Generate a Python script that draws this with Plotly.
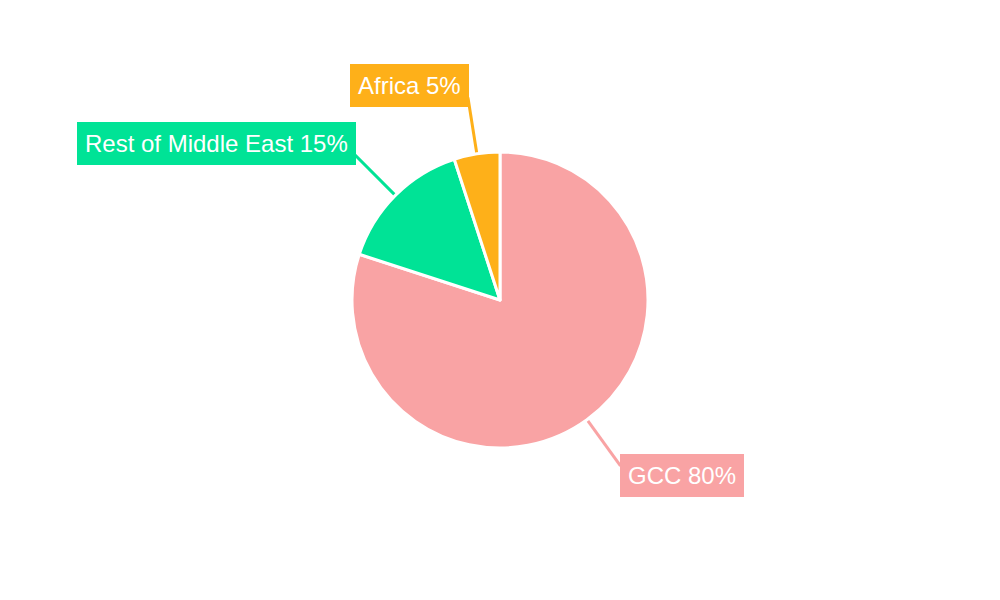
import math
import plotly.graph_objects as go

labels = ["GCC", "Rest of Middle East", "Africa"]
values = [80, 15, 5]
colors = ["#F9A3A4", "#00E396", "#FEB019"]

W, H = 1000, 600
cx, cy, R = 500, 300, 148
R_OUT = 205

fig = go.Figure(go.Pie(
    labels=labels, values=values, sort=False, direction="clockwise", rotation=0,
    marker=dict(colors=colors, line=dict(color="white", width=3)),
    textinfo="none", hoverinfo="label+percent", showlegend=False,
    domain=dict(x=[0, 1], y=[(cy - R) / H, (cy + R) / H]),
))

total = sum(values)
cum = 0
for lab, v, col in zip(labels, values, colors):
    mid = (cum + v / 2) / total * 2 * math.pi
    cum += v
    s, c = math.sin(mid), math.cos(mid)
    x1, y1 = cx + R * s, cy - R * c
    x2, y2 = cx + R_OUT * s, cy - R_OUT * c
    fig.add_shape(type="line", xref="paper", yref="paper",
                  x0=x1 / W, y0=1 - y1 / H, x1=x2 / W, y1=1 - y2 / H,
                  line=dict(color=col, width=3), layer="below")
    xa = "left" if s > 0 else "right"
    if c < 0:
        ya, ypx = "top", y2 - 12
    else:
        ya, ypx = "bottom", y2 + 9.5
    fig.add_annotation(xref="paper", yref="paper", x=(x2 + (1 if s < 0 else 0)) / W, y=1 - ypx / H,
                       xanchor=xa, yanchor=ya, showarrow=False,
                       text=f"{lab} {round(v / total * 100)}%",
                       font=dict(family="Liberation Sans, Arial, sans-serif", size=24, color="white"),
                       bgcolor=col, borderpad=8, borderwidth=0)

fig.update_layout(width=W, height=H, margin=dict(l=0, r=0, t=0, b=0),
                  paper_bgcolor="white", plot_bgcolor="white")
fig.write_html("out.html", config={"displayModeBar": False},
               post_script="document.body.style.margin='0';")
